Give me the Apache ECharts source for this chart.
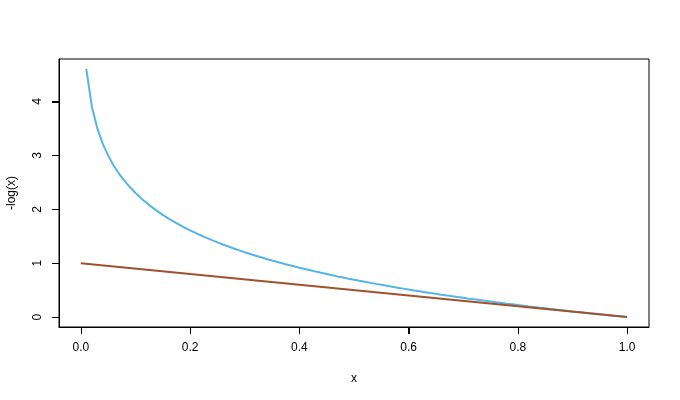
<!DOCTYPE html>
<html>
<head>
<meta charset="utf-8">
<script src="https://cdn.jsdelivr.net/npm/echarts@6/dist/echarts.min.js"></script>
<style>
html,body{margin:0;padding:0;background:#fff;}
#chart{width:680px;height:400px;}
</style>
</head>
<body>
<div id="chart"></div>
<script>
// x values of the blue curve
var curveX = [0.01,0.02,0.03,0.04,0.05,0.06,0.07,0.08,0.09,0.10,
0.11,0.12,0.13,0.14,0.15,0.16,0.17,0.18,0.19,0.20,
0.21,0.22,0.23,0.24,0.25,0.26,0.27,0.28,0.29,0.30,
0.31,0.32,0.33,0.34,0.35,0.36,0.37,0.38,0.39,0.40,
0.41,0.42,0.43,0.44,0.45,0.46,0.47,0.48,0.49,0.50,
0.51,0.52,0.53,0.54,0.55,0.56,0.57,0.58,0.59,0.60,
0.61,0.62,0.63,0.64,0.65,0.66,0.67,0.68,0.69,0.70,
0.71,0.72,0.73,0.74,0.75,0.76,0.77,0.78,0.79,0.80,
0.81,0.82,0.83,0.84,0.85,0.86,0.87,0.88,0.89,0.90,
0.91,0.92,0.93,0.94,0.95,0.96,0.97,0.98,0.99,1.00];
// y values of the blue curve (-log(x))
var curveY = [4.605,3.912,3.507,3.219,2.996,2.813,2.659,2.526,2.408,2.303,
2.207,2.120,2.040,1.966,1.897,1.833,1.772,1.715,1.661,1.609,
1.561,1.514,1.470,1.427,1.386,1.347,1.309,1.273,1.238,1.204,
1.171,1.139,1.109,1.079,1.050,1.022,0.994,0.968,0.942,0.916,
0.892,0.868,0.844,0.821,0.799,0.777,0.755,0.734,0.713,0.693,
0.673,0.654,0.635,0.616,0.598,0.580,0.562,0.545,0.528,0.511,
0.494,0.478,0.462,0.446,0.431,0.416,0.400,0.386,0.371,0.357,
0.342,0.329,0.315,0.301,0.288,0.274,0.261,0.248,0.236,0.223,
0.211,0.198,0.186,0.174,0.163,0.151,0.139,0.128,0.117,0.105,
0.094,0.083,0.073,0.062,0.051,0.041,0.030,0.020,0.010,0.000];
// straight brown line
var lineX = [0, 1];
var lineY = [1, 0];
// tick labels
var xTicks = [0, 0.2, 0.4, 0.6, 0.8, 1.0];
var xTickLabels = ['0.0','0.2','0.4','0.6','0.8','1.0'];
var yTicks = [0, 1, 2, 3, 4];
var yTickLabels = ['0','1','2','3','4'];

var X_MIN = -0.04, X_MAX = 1.04, Y_MIN = -0.184, Y_MAX = 4.789;
var TICK_LEN = 7;

function pairs(xs, ys){ return xs.map(function(x,i){ return [x, ys[i]]; }); }

var font = 'Liberation Sans, Arial, Helvetica, sans-serif';
var chart = echarts.init(document.getElementById('chart'), null, {renderer:'canvas'});
chart.setOption({
  animation: false,
  backgroundColor: '#ffffff',
  grid: {left: 59, right: 31, top: 59, bottom: 73, outerBoundsMode: 'none',
         show: true, borderColor: '#000', borderWidth: 1},
  xAxis: {
    type: 'value', min: X_MIN, max: X_MAX,
    name: 'x', nameLocation: 'middle', nameGap: 46,
    nameTextStyle: {fontFamily: font, fontSize: 12, color: '#000'},
    axisLine: {show: true, onZero: false, lineStyle: {color: '#000', width: 1}},
    splitLine: {show: false},
    axisTick: {show: true, length: TICK_LEN, lineStyle: {color: '#000', width: 1}, customValues: xTicks},
    axisLabel: {fontFamily: font, fontSize: 12, color: '#000', margin: 15, customValues: xTicks,
      formatter: function(v){ var i = xTicks.indexOf(v); return i >= 0 ? xTickLabels[i] : ''; }}
  },
  yAxis: {
    type: 'value', min: Y_MIN, max: Y_MAX,
    name: '-log(x)', nameLocation: 'middle', nameGap: 41, nameRotate: 90,
    nameTextStyle: {fontFamily: font, fontSize: 12, color: '#000'},
    axisLine: {show: true, onZero: false, lineStyle: {color: '#000', width: 1}},
    splitLine: {show: false},
    axisTick: {show: true, length: TICK_LEN, lineStyle: {color: '#000', width: 1}, customValues: yTicks},
    axisLabel: {fontFamily: font, fontSize: 12, color: '#000', margin: 15, rotate: 90, customValues: yTicks,
      formatter: function(v){ var i = yTicks.indexOf(v); return i >= 0 ? yTickLabels[i] : ''; }}
  },
  series: [
    {type: 'line', data: pairs(curveX, curveY), showSymbol: false,
     lineStyle: {color: '#56B4E9', width: 2}, itemStyle: {color: '#56B4E9'}},
    {type: 'line', data: pairs(lineX, lineY), showSymbol: false,
     lineStyle: {color: '#A0522D', width: 2}, itemStyle: {color: '#A0522D'}},
    // x-axis tick marks, placed via the axis scale (crisp 1px filled rects)
    {type: 'custom', silent: true, clip: false, z: 10,
     data: xTicks.map(function(v){ return [v, Y_MIN]; }),
     renderItem: function(params, api){
       var p = api.coord([api.value(0), api.value(1)]);
       return {type: 'rect', shape: {x: Math.round(p[0]), y: Math.round(p[1]), width: 1, height: TICK_LEN},
               style: {fill: '#000'}};
     }},
    // y-axis tick marks, placed via the axis scale
    {type: 'custom', silent: true, clip: false, z: 10,
     data: yTicks.map(function(v){ return [X_MIN, v]; }),
     renderItem: function(params, api){
       var p = api.coord([api.value(0), api.value(1)]);
       return {type: 'rect', shape: {x: Math.round(p[0]) - TICK_LEN, y: Math.round(p[1]), width: TICK_LEN, height: 1},
               style: {fill: '#000'}};
     }}
  ]
});
</script>
</body>
</html>
